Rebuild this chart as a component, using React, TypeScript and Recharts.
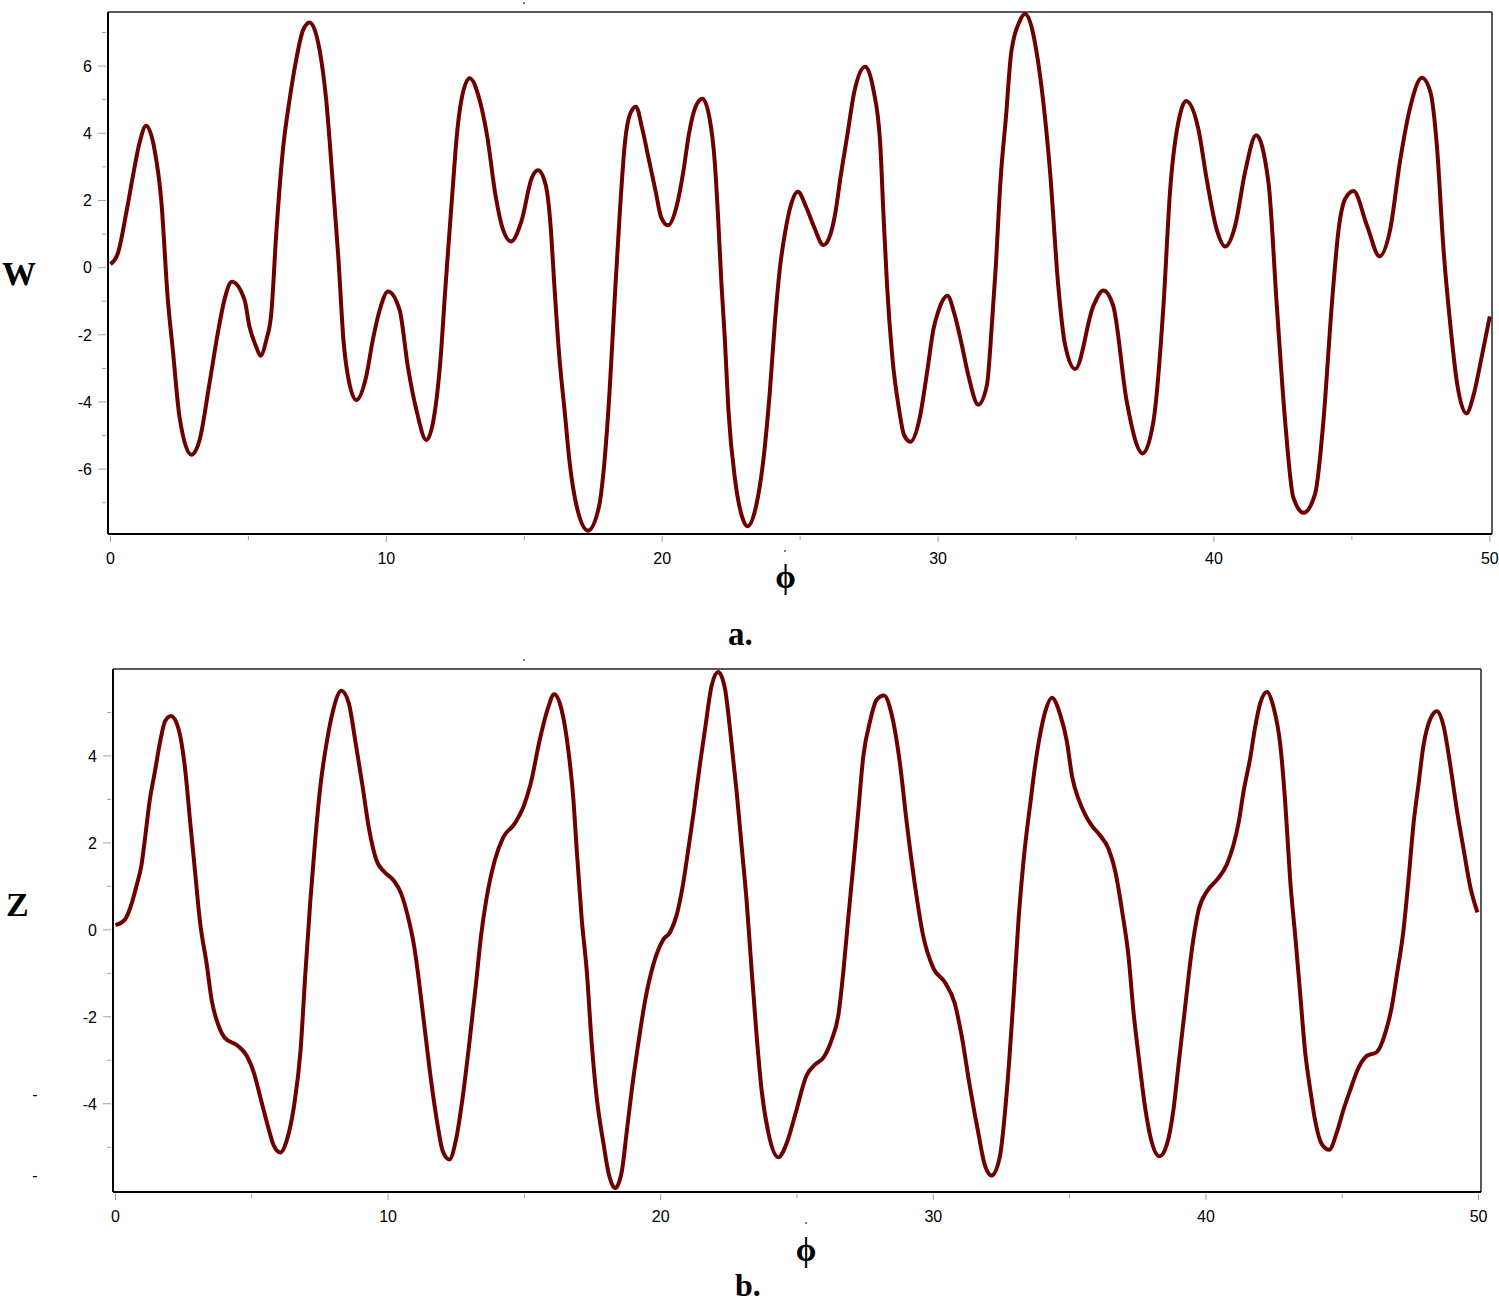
import React from "react";
import { LineChart, Line, XAxis, YAxis, ReferenceLine } from "recharts";

// panel a: W(phi)
const phiW = [
  0, 0.27, 0.57, 0.81, 1.05, 1.29, 1.6, 1.84, 2.08, 2.26, 2.5, 2.93, 3.23, 3.59, 3.89, 4.13, 4.4, 4.86,
  5.04, 5.28, 5.44, 5.65, 5.83, 6.01, 6.25, 6.49, 6.73, 6.98, 7.22, 7.58, 7.82, 8.06, 8.26, 8.45, 8.61,
  8.91, 9.27, 9.51, 9.76, 10.06, 10.48, 10.78, 11.09, 11.45, 11.75, 11.99, 12.11, 12.24, 12.42, 12.54,
  12.72, 13.02, 13.38, 13.65, 13.96, 14.21, 14.52, 14.9, 15.27, 15.5, 15.78, 15.96, 16.09, 16.27, 16.46,
  16.65, 16.9, 17.31, 17.71, 17.9, 18.09, 18.27, 18.46, 18.65, 18.84, 19.05, 19.27, 19.52, 19.77, 19.96,
  20.21, 20.52, 20.77, 20.96, 21.21, 21.46, 21.71, 21.9, 22.02, 22.15, 22.27, 22.4, 22.65, 22.9, 23.09,
  23.4, 23.65, 23.9, 24.09, 24.27, 24.46, 24.65, 24.92, 25.21, 25.52, 25.84, 26.09, 26.27, 26.46, 26.71,
  26.96, 27.36, 27.65, 27.9, 28.02, 28.15, 28.34, 28.59, 28.77, 29.0, 29.34, 29.59, 29.84, 30.02, 30.34,
  30.59, 30.84, 31.09, 31.46, 31.77, 31.96, 32.09, 32.27, 32.46, 32.65, 32.96, 33.15, 33.7, 34.06, 34.36,
  34.6, 34.97, 35.63, 35.99, 36.35, 36.84, 37.42, 37.81, 38.17, 38.41, 38.77, 38.99, 39.44, 39.74, 40.1,
  40.41, 40.77, 41.13, 41.53, 41.98, 42.28, 42.58, 42.88, 43.25, 43.67, 43.97, 44.27, 44.52, 44.76, 45.06,
  45.55, 46.0, 46.39, 46.75, 47.12, 47.54, 47.84, 48.08, 48.32, 48.57, 48.81, 49.15, 49.42, 49.66, 50,
];
const valW = [
  0.1, 0.43, 1.62, 2.71, 3.7, 4.22, 3.5, 2.01, -0.96, -2.45, -4.43, -5.57, -5.13, -3.44, -1.95, -0.96, -0.42, -0.96,
  -1.76, -2.35, -2.62, -2.15, -1.36, 1.02, 3.5, 4.99, 6.18, 7.07, 7.3, 6.48, 4.99, 2.51, 0.3, -2.2, -3.24,
  -3.94, -3.24, -2.15, -1.26, -0.71, -1.26, -2.95, -4.24, -5.13, -4.33, -2.45, -0.96, 0.53, 2.51, 3.8,
  4.99, 5.64, 4.99, 3.94, 2.14, 1.18, 0.78, 1.39, 2.67, 2.9, 2.45, 1.18, -0.52, -2.65, -4.24,
  -5.84, -7.11, -7.83, -7.11, -5.84, -3.71, -1.05, 1.6, 3.73, 4.58, 4.79, 4.16, 3.2, 2.24, 1.5,
  1.26, 1.82, 2.88, 3.94, 4.79, 5.03, 4.47, 3.2, 1.6, -0.52, -2.12, -4.24, -6.37, -7.43, -7.7,
  -7.11, -5.84, -3.71, -1.58, 0.01, 1.07, 1.82, 2.26, 1.82, 1.18, 0.67, 0.97, 1.6, 2.67, 3.94,
  5.22, 5.98, 5.32, 3.73, 1.6, -0.52, -2.65, -4.24, -4.99, -5.18, -4.45, -3.18, -1.8, -1.27, -0.84,
  -1.37, -2.22, -3.18, -4.08, -3.5, -1.58, 0.01, 2.67, 4.47, 6.39, 7.34, 7.55, 5.7, 2.85, -0.57,
  -2.28, -3.02, -1.14, -0.68, -1.14, -3.99, -5.53, -4.56, -1.14, 2.28, 4.56, 4.96, 4.11, 2.62, 1.14,
  0.63, 1.25, 2.85, 3.94, 2.51, -1.14, -4.56, -6.85, -7.3, -6.73, -4.56, -1.14, 1.14, 2.05, 2.28,
  1.25, 0.34, 1.14, 3.19, 4.79, 5.65, 5.25, 3.65, 0.57, -1.71, -3.42, -4.34, -3.77, -2.85, -1.45,
];

// panel b: Z(phi)
const phiZ = [
  0, 0.34, 0.55, 0.77, 0.96, 1.08, 1.26, 1.45, 1.63, 1.82, 2.04, 2.31, 2.55, 2.74, 2.92, 3.1, 3.35, 3.53,
  3.78, 4.02, 4.45, 4.82, 5.07, 5.31, 5.62, 5.8, 6.05, 6.29, 6.54, 6.79, 6.97, 7.15, 7.34, 7.52, 7.77,
  7.95, 8.29, 8.56, 8.81, 9.06, 9.3, 9.58, 9.85, 10.2, 10.47, 10.71, 10.96, 11.14, 11.33, 11.57, 11.82,
  12.0, 12.25, 12.49, 12.74, 12.98, 13.23, 13.41, 13.6, 13.91, 14.22, 14.65, 14.96, 15.23, 15.57, 15.88,
  16.09, 16.37, 16.61, 16.8, 16.92, 17.1, 17.29, 17.47, 17.65, 17.9, 18.08, 18.33, 18.57, 18.75, 18.94,
  19.18, 19.43, 19.73, 20.1, 20.34, 20.59, 20.83, 21.01, 21.2, 21.44, 21.63, 21.87, 22.11, 22.36, 22.54,
  22.79, 22.97, 23.15, 23.34, 23.52, 23.7, 23.95, 24.32, 24.62, 24.93, 25.35, 25.66, 25.97, 26.27, 26.52,
  26.7, 26.88, 27.07, 27.25, 27.43, 27.68, 27.92, 28.19, 28.47, 28.78, 29.02, 29.33, 29.63, 30.0, 30.43,
  30.79, 31.04, 31.34, 31.65, 31.89, 32.14, 32.44, 32.7, 32.95, 33.13, 33.31, 33.56, 33.74, 33.92, 34.11,
  34.35, 34.66, 34.9, 35.09, 35.33, 35.57, 35.82, 36.12, 36.43, 36.68, 36.92, 37.16, 37.35, 37.53, 37.78,
  37.96, 38.3, 38.57, 38.81, 39.0, 39.24, 39.49, 39.73, 40.04, 40.4, 40.77, 41.01, 41.2, 41.38, 41.63,
  41.81, 41.99, 42.24, 42.48, 42.73, 42.91, 43.09, 43.28, 43.46, 43.64, 43.83, 44.01, 44.25, 44.52, 44.8,
  45.05, 45.29, 45.6, 45.9, 46.27, 46.58, 46.82, 47.0, 47.25, 47.43, 47.62, 47.8, 47.98, 48.23, 48.47,
  48.72, 48.96, 49.21, 49.45, 49.7, 49.96,
];
const valZ = [
  0.11, 0.23, 0.52, 1.01, 1.51, 2.08, 2.99, 3.65, 4.3, 4.8, 4.92, 4.63, 3.73, 2.49, 1.34, 0.19, -0.8, -1.62,
  -2.2, -2.49, -2.65, -2.9, -3.27, -3.84, -4.58, -4.95, -5.12, -4.83, -4.09, -2.77, -0.96, 0.68, 2.16, 3.32, 4.39,
  4.96, 5.5, 5.21, 4.3, 3.32, 2.33, 1.59, 1.34, 1.14, 0.85, 0.35, -0.39, -1.21, -2.2, -3.43, -4.5,
  -5.08, -5.28, -4.83, -3.84, -2.61, -1.21, -0.14, 0.68, 1.59, 2.12, 2.45, 2.82, 3.36, 4.39, 5.13,
  5.42, 5.05, 4.14, 2.99, 1.84, 0.27, -0.96, -2.61, -3.84, -4.91, -5.57, -5.94, -5.57, -4.67, -3.68,
  -2.61, -1.62, -0.8, -0.22, -0.06, 0.35, 1.09, 1.84, 2.66, 3.81, 4.63, 5.62, 5.93, 5.54, 4.63,
  3.15, 1.92, 0.68, -0.96, -2.44, -3.68, -4.67, -5.23, -4.91, -4.26, -3.35, -3.1, -2.94, -2.53, -1.95,
  -0.96, 0.27, 1.51, 2.74, 3.98, 4.8, 5.29, 5.39, 4.96, 3.81, 2.49, 1.01, -0.14, -0.88, -1.21,
  -1.7, -2.44, -3.6, -4.67, -5.41, -5.65, -5.22, -3.69, -1.49, 0.27, 1.59, 2.92, 3.8, 4.5, 5.03,
  5.34, 4.94, 4.33, 3.53, 3.0, 2.65, 2.39, 2.17, 1.86, 1.33, 0.45, -0.61, -1.93, -2.9, -4.13,
  -4.75, -5.21, -4.93, -4.13, -3.08, -1.76, -0.43, 0.45, 0.89, 1.15, 1.51, 1.95, 2.47, 3.18, 3.97,
  4.68, 5.21, 5.47, 5.12, 4.24, 2.92, 1.15, -0.17, -1.49, -2.81, -3.69, -4.4, -4.93, -5.06, -4.66,
  -4.13, -3.69, -3.17, -2.9, -2.81, -2.37, -1.76, -1.05, 0.01, 1.15, 2.47, 3.36, 4.24, 4.85, 5.03,
  4.68, 3.8, 2.74, 1.86, 0.98, 0.4,
];

const xTicks = [0, 5, 10, 15, 20, 25, 30, 35, 40, 45, 50];
const wTicks = [-7, -6, -5, -4, -3, -2, -1, 0, 1, 2, 3, 4, 5, 6, 7];
const zTicks = [-5, -4, -3, -2, -1, 0, 1, 2, 3, 4, 5];

const dataW = phiW.map((p, i) => ({ phi: p, v: valW[i] }));
const dataZ = phiZ.map((p, i) => ({ phi: p, v: valZ[i] }));

const tickFont = "'Liberation Sans', Arial, sans-serif";
const serif = "'Liberation Serif', 'Times New Roman', serif";
const curveColor = "#6e0000";

const XTick = ({ x, y, payload }: any) => {
  const major = payload.value % 10 === 0;
  return (
    <g>
      <line x1={x} x2={x} y1={y + 2} y2={y + (major ? 8 : 6)} stroke="#a0a0a0" strokeWidth={1} />
      {major && (
        <text x={x} y={y + 30} textAnchor="middle" fontFamily={tickFont} fontSize={16} fill="#000">
          {payload.value}
        </text>
      )}
    </g>
  );
};

const YTick = ({ x, y, payload }: any) => {
  const major = payload.value % 2 === 0;
  return (
    <g>
      <line x1={x - (major ? 10 : 6)} x2={x - 2} y1={y} y2={y} stroke="#a0a0a0" strokeWidth={1} />
      {major && (
        <text x={x - 16} y={y} dy="0.36em" textAnchor="end" fontFamily={tickFont} fontSize={16} fill="#000">
          {payload.value}
        </text>
      )}
    </g>
  );
};

function Panel({ data, yDomain, yTicks, xDomain, margin, yWidth }: any) {
  return (
    <LineChart width={1499} height={600} data={data} margin={margin}>
      <XAxis
        dataKey="phi"
        type="number"
        domain={xDomain}
        allowDataOverflow
        ticks={xTicks}
        interval={0}
        height={30}
        tickSize={0}
        tickMargin={0}
        tickLine={false}
        tick={<XTick />}
        axisLine={{ stroke: "#000", strokeWidth: 2 }}
      />
      <YAxis
        type="number"
        domain={yDomain}
        allowDataOverflow
        ticks={yTicks}
        interval={0}
        width={yWidth}
        tickSize={0}
        tickMargin={0}
        tickLine={false}
        tick={<YTick />}
        axisLine={{ stroke: "#000", strokeWidth: 2 }}
      />
      {/* thin frame on top and right */}
      <ReferenceLine y={yDomain[1]} stroke="#222" strokeWidth={1.5} />
      <ReferenceLine x={xDomain[1]} stroke="#222" strokeWidth={1.5} />
      <Line
        type="monotone"
        dataKey="v"
        stroke={curveColor}
        strokeWidth={4}
        dot={false}
        isAnimationActive={false}
      />
    </LineChart>
  );
}

export default function App() {
  return (
    <div style={{ position: "absolute", left: 0, top: 0, width: 1499, height: 1304, background: "#fff" }}>
      <div style={{ position: "absolute", left: 0, top: 0 }}>
        <Panel
          data={dataW}
          xDomain={[-0.09, 50.08]}
          yDomain={[-7.93, 7.61]}
          yTicks={wTicks}
          yWidth={108}
          margin={{ top: 12, right: 7, bottom: 36, left: 0 }}
        />
      </div>
      <div style={{ position: "absolute", left: 0, top: 640 }}>
        <Panel
          data={dataZ}
          xDomain={[-0.09, 50.09]}
          yDomain={[-6.03, 6.0]}
          yTicks={zTicks}
          yWidth={113}
          margin={{ top: 29, right: 18, bottom: 18, left: 0 }}
        />
      </div>
      <svg
        width={1499}
        height={1304}
        style={{ position: "absolute", left: 0, top: 0, pointerEvents: "none" }}
      >
        <g fontFamily={serif} fontWeight="bold" fill="#000">
          <text x={2} y={285} fontSize={34}>W</text>
          <text x={785.5} y={588} fontSize={33} textAnchor="middle">ϕ</text>
          <text x={728} y={645} fontSize={33}>a.</text>
          <text x={6} y={916} fontSize={34}>Z</text>
          <text x={806} y={1261} fontSize={33} textAnchor="middle">ϕ</text>
          <text x={735} y={1296} fontSize={32}>b.</text>
        </g>
        <g fontFamily={tickFont} fontSize={16} fill="#000" textAnchor="middle">
          <text x={35} y={1100}>-</text>
          <text x={35} y={1181}>-</text>
        </g>
        <g fill="#555">
          <circle cx={524} cy={3} r={1} />
          <circle cx={524} cy={660} r={1} />
          <circle cx={785} cy={551} r={1} />
          <circle cx={806} cy={1223} r={1} />
        </g>
      </svg>
    </div>
  );
}
